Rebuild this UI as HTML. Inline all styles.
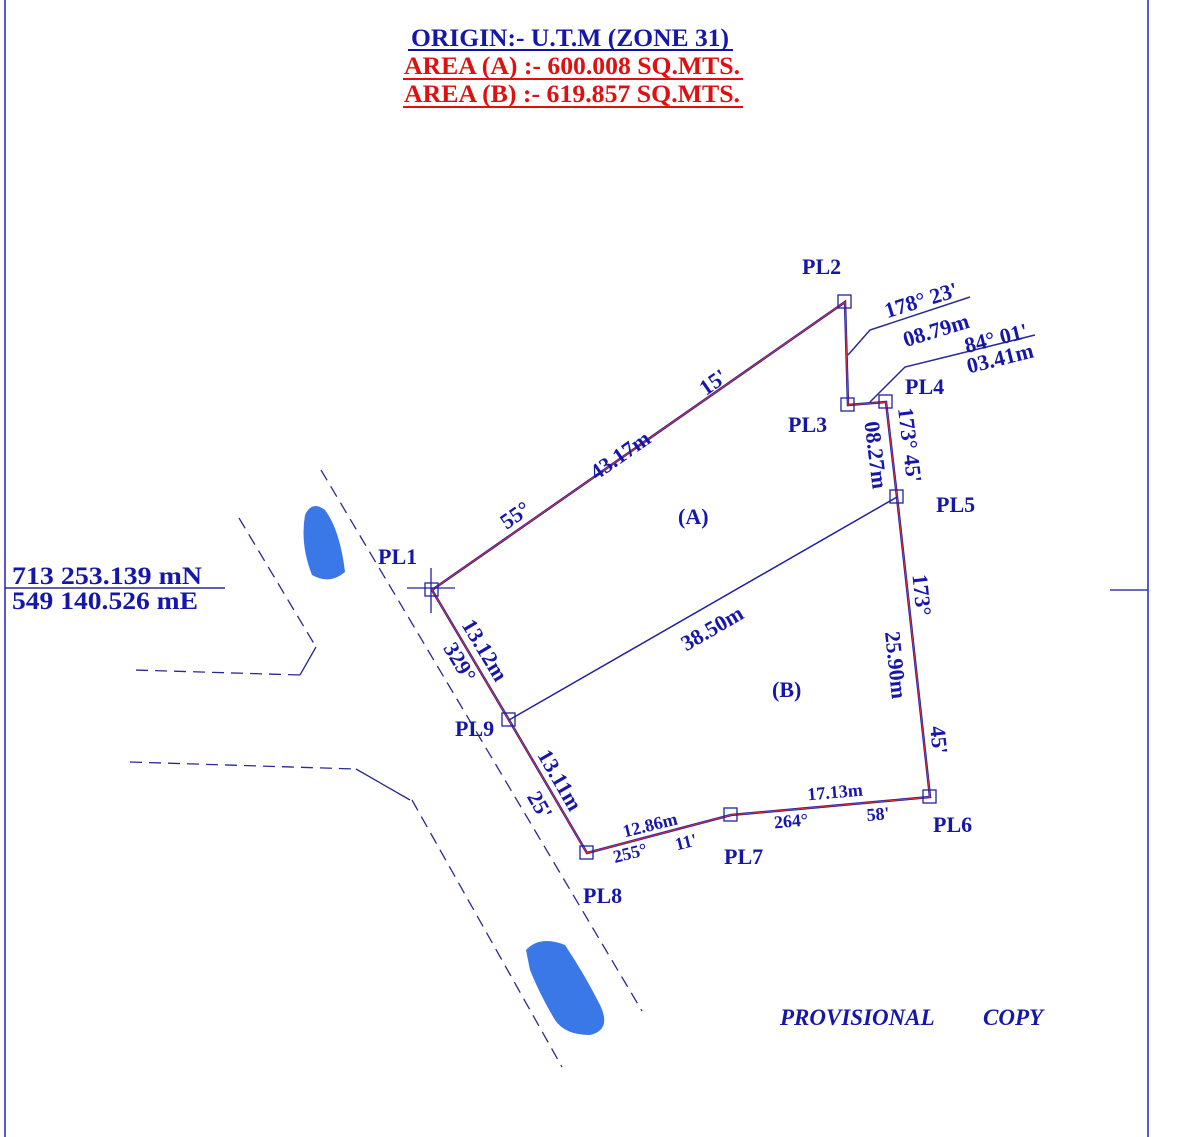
<!DOCTYPE html>
<html><head><style>
html,body{margin:0;padding:0;background:#fff;}
svg{display:block;}
text{font-family:"Liberation Serif",serif;font-weight:bold;fill:#1616a8;}
</style></head><body>
<svg width="1200" height="1137" viewBox="0 0 1200 1137" xmlns="http://www.w3.org/2000/svg">
<line x1="5" y1="0" x2="5" y2="1137" stroke="#5a5ad0" stroke-width="2"/>
<line x1="1148" y1="0" x2="1148" y2="1137" stroke="#5a5ad0" stroke-width="2"/>
<line x1="1110" y1="590" x2="1148" y2="590" stroke="#3a3ab0" stroke-width="1.5"/>
<text x="570" y="46" font-size="25" text-anchor="middle" textLength="318" lengthAdjust="spacingAndGlyphs" fill="#1010b0">ORIGIN:- U.T.M (ZONE 31)</text>
<line x1="408" y1="50" x2="733" y2="50" stroke="#1010b0" stroke-width="2"/>
<text x="572" y="74" font-size="25" text-anchor="middle" textLength="336" lengthAdjust="spacingAndGlyphs" style="fill:#e01010">AREA (A) :- 600.008 SQ.MTS.</text>
<line x1="403" y1="79" x2="743" y2="79" stroke="#e01010" stroke-width="2"/>
<text x="572" y="102" font-size="25" text-anchor="middle" textLength="336" lengthAdjust="spacingAndGlyphs" style="fill:#e01010">AREA (B) :- 619.857 SQ.MTS.</text>
<line x1="403" y1="107" x2="743" y2="107" stroke="#e01010" stroke-width="2"/>
<g stroke="#2a2a90" stroke-width="1.3" fill="none" stroke-dasharray="12,7">
<line x1="321" y1="470" x2="642" y2="1011"/>
<line x1="412" y1="800" x2="562" y2="1067"/>
<polyline points="239,518 316,647"/>
<polyline points="300,675 134,670"/>
<polyline points="130,762 356,769"/>
</g>
<g stroke="#2a2a90" stroke-width="1.3" fill="none">
<polyline points="316,647 300,675"/>
<polyline points="356,769 410,800"/>
</g>
<path d="M305,515 Q312,500 325,510 Q340,530 345,572 Q330,585 312,575 Q300,545 305,515Z" fill="#3a78e8"/>
<path d="M526,950 Q540,935 565,945 Q585,975 600,1005 Q612,1030 590,1035 Q565,1035 555,1020 Q540,995 530,970Z" fill="#3a78e8"/>
<text x="12" y="584" font-size="25" textLength="190" lengthAdjust="spacingAndGlyphs">713 253.139 mN</text>
<line x1="5" y1="588" x2="225" y2="588" stroke="#2a2a90" stroke-width="1.5"/>
<text x="12" y="609" font-size="25" textLength="186" lengthAdjust="spacingAndGlyphs">549 140.526 mE</text>
<g fill="none">
<polyline points="432,590 845,302 848,405 886,402 897,497 930,797 731,815 587,853 509,720 432,590" stroke="#2020a0" stroke-width="2.5"/>
<polyline points="432,590 845,302 848,405 886,402 897,497 930,797 731,815 587,853 509,720 432,590" stroke="#e03030" stroke-width="1"/>
<line x1="897" y1="497" x2="509" y2="720" stroke="#2020a0" stroke-width="1.5"/>
<polyline points="848,355 870,330 970,297" stroke="#2a2a90" stroke-width="1.5"/>
<polyline points="870,402 905,367 1035,335" stroke="#2a2a90" stroke-width="1.5"/>
<g stroke="#2020a0" stroke-width="1.3">
<rect x="838" y="295" width="13" height="13"/>
<rect x="841" y="398" width="13" height="13"/>
<rect x="879" y="395" width="13" height="13"/>
<rect x="890" y="490" width="13" height="13"/>
<rect x="923" y="790" width="13" height="13"/>
<rect x="724" y="808" width="13" height="13"/>
<rect x="580" y="846" width="13" height="13"/>
<rect x="502" y="713" width="13" height="13"/>
<rect x="425" y="583" width="13" height="13"/>
<line x1="407" y1="588" x2="455" y2="588"/>
<line x1="431" y1="568" x2="431" y2="613"/>
</g>
</g>
<g font-size="22">
<text x="802" y="274">PL2</text>
<text x="788" y="432">PL3</text>
<text x="905" y="394">PL4</text>
<text x="936" y="512">PL5</text>
<text x="933" y="832">PL6</text>
<text x="724" y="864">PL7</text>
<text x="583" y="903">PL8</text>
<text x="455" y="736">PL9</text>
<text x="378" y="564">PL1</text>
<text x="678" y="524">(A)</text>
<text x="772" y="697">(B)</text>
</g>
<g font-size="22" text-anchor="middle" dominant-baseline="central">
<text transform="translate(515,515) rotate(-35)">55°</text>
<text transform="translate(620,455) rotate(-35)">43.17m</text>
<text transform="translate(713,382) rotate(-35)">15'</text>
<text transform="translate(712,628) rotate(-30)">38.50m</text>
<text transform="translate(485,650) rotate(59)">13.12m</text>
<text transform="translate(460,662) rotate(59)">329°</text>
<text transform="translate(560,780) rotate(60)">13.11m</text>
<text transform="translate(540,805) rotate(60)">25'</text>
<text transform="translate(650,825) rotate(-14)" font-size="18">12.86m</text>
<text transform="translate(630,853) rotate(-14)" font-size="18">255°</text>
<text transform="translate(686,842) rotate(-14)" font-size="18">11'</text>
<text transform="translate(835,792) rotate(-5)" font-size="18">17.13m</text>
<text transform="translate(791,821) rotate(-5)" font-size="18">264°</text>
<text transform="translate(878,814) rotate(-5)" font-size="18">58'</text>
<text transform="translate(922,595) rotate(84)">173°</text>
<text transform="translate(896,665) rotate(84)">25.90m</text>
<text transform="translate(939,740) rotate(84)">45'</text>
<text transform="translate(910,445) rotate(83)">173°  45'</text>
<text transform="translate(876,455) rotate(83)">08.27m</text>
<text transform="translate(921,300) rotate(-17)">178°  23'</text>
<text transform="translate(936,330) rotate(-17)">08.79m</text>
<text transform="translate(996,338) rotate(-14)">84°  01'</text>
<text transform="translate(1000,358) rotate(-14)">03.41m</text>
</g>
<text x="780" y="1025" font-size="23" font-style="italic">PROVISIONAL</text>
<text x="983" y="1025" font-size="23" font-style="italic">COPY</text>
</svg>
</body></html>
